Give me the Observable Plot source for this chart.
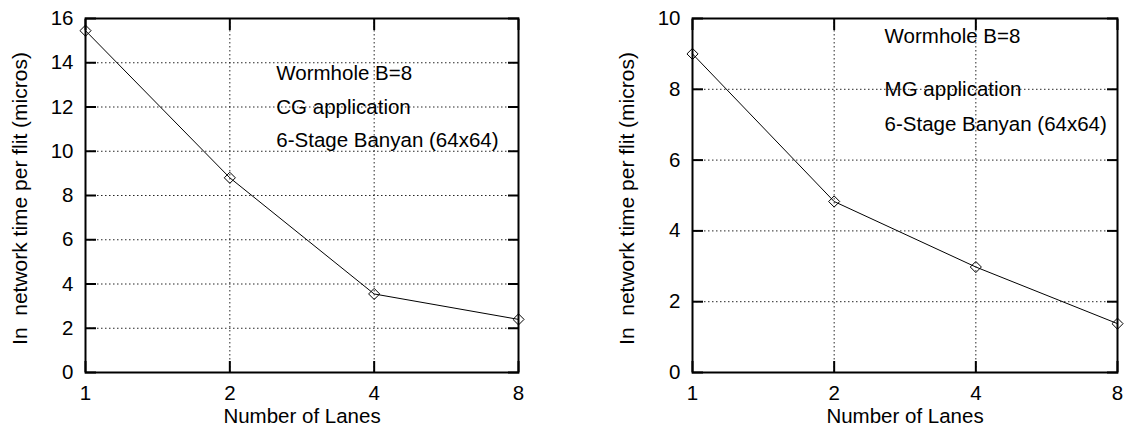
<!DOCTYPE html>
<html><head><meta charset="utf-8">
<script src="https://cdn.jsdelivr.net/npm/d3@7"></script>
<script src="https://cdn.jsdelivr.net/npm/@observablehq/plot@0.6"></script>
<style>
body{margin:0;background:#fff;}
#wrap{display:flex;width:1133px;height:429px;overflow:hidden;}
svg text{white-space:pre;}
svg g[aria-label*="tick label"] text{font-size:20.5px;}
</style></head><body><div id="wrap"></div>
<script>
const lanes = [1, 2, 4, 8];
const cgTime = [15.45, 8.8, 3.55, 2.4];
const mgTime = [9.0, 4.83, 2.98, 1.38];
const cgYTicks = [0, 2, 4, 6, 8, 10, 12, 14, 16];
const mgYTicks = [0, 2, 4, 6, 8, 10];
const cgNotes = ["Wormhole B=8", "CG application", "6-Stage Banyan (64x64)"];
const cgNoteY = [13.5, 12, 10.5];
const cgNoteX = 2.5;
const mgNotes = ["Wormhole B=8", "MG application", "6-Stage Banyan (64x64)"];
const mgNoteY = [9.5, 8, 7];
const mgNoteX = 2.56;
const xTitle = "Number of Lanes";
const yTitle = "In  network time per flit (micros)";

function panel({values, yMax, yTicks, notes, noteX, noteY, width, marginLeft, marginRight}) {
  const data = lanes.map((l, i) => ({lanes: l, time: values[i]}));
  const noteData = notes.map((t, i) => ({text: t, x: noteX, y: noteY[i]}));
  const grid = {stroke: "#000", strokeOpacity: 0.85, strokeWidth: 1, strokeDasharray: "1.5,2.5"};
  const fs = 20.5;
  return Plot.plot({
    width, height: 429,
    marginLeft, marginRight, marginTop: 18, marginBottom: 57,
    style: {fontFamily: "'Liberation Sans', Arial, sans-serif", fontSize: "20.5px", color: "#000", background: "#fff", overflow: "visible"},
    x: {type: "log", base: 2, domain: [1, 8]},
    y: {domain: [0, yMax]},
    marks: [
      Plot.gridY(yTicks, grid),
      Plot.gridX(lanes, grid),
      Plot.text(noteData, {x: "x", y: "y", text: "text", textAnchor: "start", lineAnchor: "middle", fill: "#000", fontSize: fs}),
      Plot.axisY(yTicks, {anchor: "left", tickSize: 0, tickPadding: 12, label: null, fontSize: fs, fill: "#000"}),
      Plot.axisY(yTicks, {anchor: "left", tickSize: -11, strokeWidth: 2, fill: "none", label: null}),
      Plot.axisY(yTicks, {anchor: "right", tickSize: -11, strokeWidth: 2, fill: "none", label: null}),
      Plot.axisX(lanes, {anchor: "bottom", tickSize: 0, tickPadding: 13, tickFormat: d => String(d), label: null, fontSize: fs, fill: "#000"}),
      Plot.axisX(lanes, {anchor: "bottom", tickSize: -11, strokeWidth: 2, fill: "none", label: null}),
      Plot.axisX(lanes, {anchor: "top", tickSize: -11, strokeWidth: 2, fill: "none", label: null}),
      Plot.frame({stroke: "#000", strokeWidth: 2}),
      Plot.line(data, {x: "lanes", y: "time", stroke: "#000", strokeWidth: 1}),
      Plot.dot(data, {x: "lanes", y: "time", symbol: "diamond2", r: 5, stroke: "#000", fill: "none", strokeWidth: 1}),
      Plot.text([xTitle], {text: d => d, frameAnchor: "bottom", dy: 44, textAnchor: "middle", lineAnchor: "middle", fill: "#000", fontSize: fs}),
      Plot.text([yTitle], {text: d => d, frameAnchor: "left", rotate: -90, dx: -65, dy: 3, textAnchor: "middle", lineAnchor: "middle", fill: "#000", fontSize: 21})
    ]
  });
}

const wrap = document.getElementById("wrap");
wrap.append(panel({values: cgTime, yMax: 16, yTicks: cgYTicks, notes: cgNotes, noteX: cgNoteX, noteY: cgNoteY, width: 566, marginLeft: 85, marginRight: 48}));
wrap.append(panel({values: mgTime, yMax: 10, yTicks: mgYTicks, notes: mgNotes, noteX: mgNoteX, noteY: mgNoteY, width: 567, marginLeft: 126, marginRight: 16}));
</script></body></html>
